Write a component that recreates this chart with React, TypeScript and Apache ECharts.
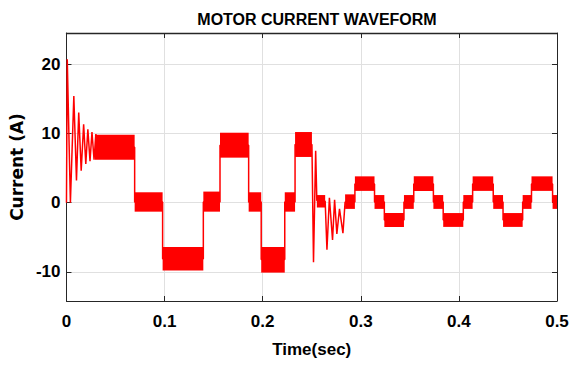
import React, { useEffect, useRef } from "react";
import * as echarts from "echarts";

// Ripple bands: [start time, end time, lower edge, upper edge]
const bandStart = [0.029, 0.0695, 0.098, 0.1395, 0.1565, 0.1857, 0.1985, 0.2225, 0.233, 0.2552, 0.284, 0.294, 0.314, 0.324, 0.344, 0.354, 0.374, 0.384, 0.4045, 0.414, 0.435, 0.445, 0.465, 0.474, 0.4955];
const bandEnd = [0.0695, 0.098, 0.1395, 0.1565, 0.1857, 0.1985, 0.2225, 0.233, 0.2502, 0.2637, 0.294, 0.314, 0.324, 0.344, 0.354, 0.374, 0.384, 0.4045, 0.414, 0.435, 0.445, 0.465, 0.474, 0.4955, 0.5];
const bandLow = [6.2, -1.3, -9.8, -1.3, 6.5, -1.3, -10.1, -1.3, 6.6, -0.7, -0.9, 1.7, -0.9, -3.5, -0.9, 1.7, -0.9, -3.5, -0.9, 1.7, -0.9, -3.5, -0.9, 1.7, -0.9];
const bandHigh = [9.8, 1.5, -6.4, 1.6, 10.1, 1.5, -6.4, 1.5, 10.2, 1.1, 1.2, 3.8, 1.1, -1.5, 1.1, 3.8, 1.1, -1.5, 1.1, 3.8, 1.1, -1.5, 1.1, 3.8, 1.1];

// Main trace (transients and step transitions)
const traceT = [0, 0.0008, 0.004, 0.0075, 0.0102, 0.0125, 0.015, 0.0175, 0.0197, 0.0218, 0.024, 0.026, 0.0281, 0.03, 0.032, 0.0695, 0.0695, 0.098, 0.098, 0.1395, 0.1395, 0.1565, 0.1565, 0.1857, 0.1857, 0.1985, 0.1985, 0.2225, 0.2225, 0.233, 0.233, 0.2502, 0.2518, 0.254, 0.2552, 0.2637, 0.2655, 0.268, 0.2712, 0.2733, 0.2756, 0.2783, 0.2818, 0.284, 0.294, 0.294, 0.314, 0.314, 0.324, 0.324, 0.344, 0.344, 0.354, 0.354, 0.374, 0.374, 0.384, 0.384, 0.4045, 0.4045, 0.414, 0.414, 0.435, 0.435, 0.445, 0.445, 0.465, 0.465, 0.474, 0.474, 0.4955, 0.4955, 0.5];
const traceV = [0, 20.7, 0.0, 15.4, 3.2, 13.0, 4.6, 11.3, 5.6, 10.6, 6.0, 10.2, 6.2, 9.9, 8.0, 8.0, 0.1, 0.1, -8.1, -8.1, 0.1, 0.1, 8.3, 8.3, 0.1, 0.1, -8.2, -8.2, 0.1, 0.1, 8.4, 8.4, -8.6, 7.5, 0.3, 0.2, -6.8, 0.7, -5.4, 0.4, -4.5, -0.9, -4.4, 0.1, 0.1, 2.7, 2.7, 0.1, 0.1, -2.5, -2.5, 0.1, 0.1, 2.7, 2.7, 0.1, 0.1, -2.5, -2.5, 0.1, 0.1, 2.7, 2.7, 0.1, 0.1, -2.5, -2.5, 0.1, 0.1, 2.7, 2.7, 0.1, 0.1];

const xMin = 0;
const xMax = 0.5;
const xStep = 0.1;
const yMin = -14.2;
const yMax = 24.5;

export default function App() {
  const ref = useRef<HTMLDivElement>(null);
  useEffect(() => {
    document.body.style.margin = "0";
    if (!ref.current) return;
    const chart = echarts.init(ref.current, null, { renderer: "svg" });
    const bands = bandStart.map((s, i) => [s, bandEnd[i], bandLow[i], bandHigh[i]]);
    const trace = traceT.map((t, i) => [t, traceV[i]]);
    const axisColor = "#262626";
    const labelFont = { fontFamily: "Liberation Sans, Arial, sans-serif", fontWeight: "bold" as const, fontSize: 17, color: "#000" };
    chart.setOption({
      animation: false,
      backgroundColor: "#fff",
      title: {
        text: "MOTOR CURRENT WAVEFORM",
        left: 312,
        top: 6,
        textAlign: "center",
        textStyle: { fontFamily: "Liberation Sans, Arial, sans-serif", fontWeight: "bold", fontSize: 16, color: "#000" },
      },
      grid: { left: 66, top: 33, right: 26, bottom: 66, containLabel: false },
      xAxis: [
        {
          type: "value",
          min: xMin,
          max: xMax,
          interval: xStep,
          position: "bottom",
          name: "Time(sec)",
          nameLocation: "middle",
          nameGap: 40,
          nameTextStyle: labelFont,
          axisLine: { show: true, onZero: false, lineStyle: { color: axisColor, width: 1 } },
          axisTick: { show: true, inside: true, length: 5, lineStyle: { color: axisColor } },
          axisLabel: { ...labelFont, margin: 12 },
          splitLine: { show: true, lineStyle: { color: "#e0e0e0", width: 1 } },
        },
        {
          type: "value",
          min: xMin,
          max: xMax,
          interval: xStep,
          position: "top",
          axisLine: { show: true, onZero: false, lineStyle: { color: axisColor, width: 1.3 } },
          axisTick: { show: true, inside: true, length: 5, lineStyle: { color: axisColor } },
          axisLabel: { show: false },
          splitLine: { show: false },
        },
      ],
      yAxis: [
        {
          type: "value",
          min: yMin,
          max: yMax,
          splitNumber: 4,
          position: "left",
          name: "Current (A)",
          nameLocation: "middle",
          nameGap: 33,
          nameTextStyle: { fontFamily: "DejaVu Sans, sans-serif", fontWeight: "bold", fontSize: 17, color: "#000" },
          axisLine: { show: true, onZero: false, lineStyle: { color: axisColor, width: 1 } },
          axisTick: { show: true, inside: true, length: 5, lineStyle: { color: axisColor } },
          axisLabel: { ...labelFont, margin: 6, showMinLabel: false, showMaxLabel: false },
          splitLine: { show: true, lineStyle: { color: "#e0e0e0", width: 1 } },
        },
        {
          type: "value",
          min: yMin,
          max: yMax,
          splitNumber: 4,
          position: "right",
          axisLine: { show: true, onZero: false, lineStyle: { color: axisColor, width: 1 } },
          axisTick: { show: true, inside: true, length: 5, lineStyle: { color: axisColor } },
          axisLabel: { show: false },
          splitLine: { show: false },
        },
      ],
      series: [
        {
          type: "custom",
          name: "ripple",
          xAxisIndex: 0,
          yAxisIndex: 0,
          encode: { x: [0, 1], y: [2, 3] },
          data: bands,
          renderItem: (_params: any, api: any) => {
            const p1 = api.coord([api.value(0), api.value(3)]);
            const p2 = api.coord([api.value(1), api.value(2)]);
            return {
              type: "rect",
              shape: { x: p1[0], y: p1[1], width: p2[0] - p1[0], height: p2[1] - p1[1] },
              style: { fill: "#ff0000" },
            };
          },
          z: 2,
        },
        {
          type: "line",
          name: "current",
          xAxisIndex: 0,
          yAxisIndex: 0,
          data: trace,
          showSymbol: false,
          symbol: "none",
          lineStyle: { color: "#ff0000", width: 1.5 },
          z: 3,
        },
      ],
    });
    return () => chart.dispose();
  }, []);
  return <div ref={ref} style={{ width: 583, height: 367 }} />;
}
